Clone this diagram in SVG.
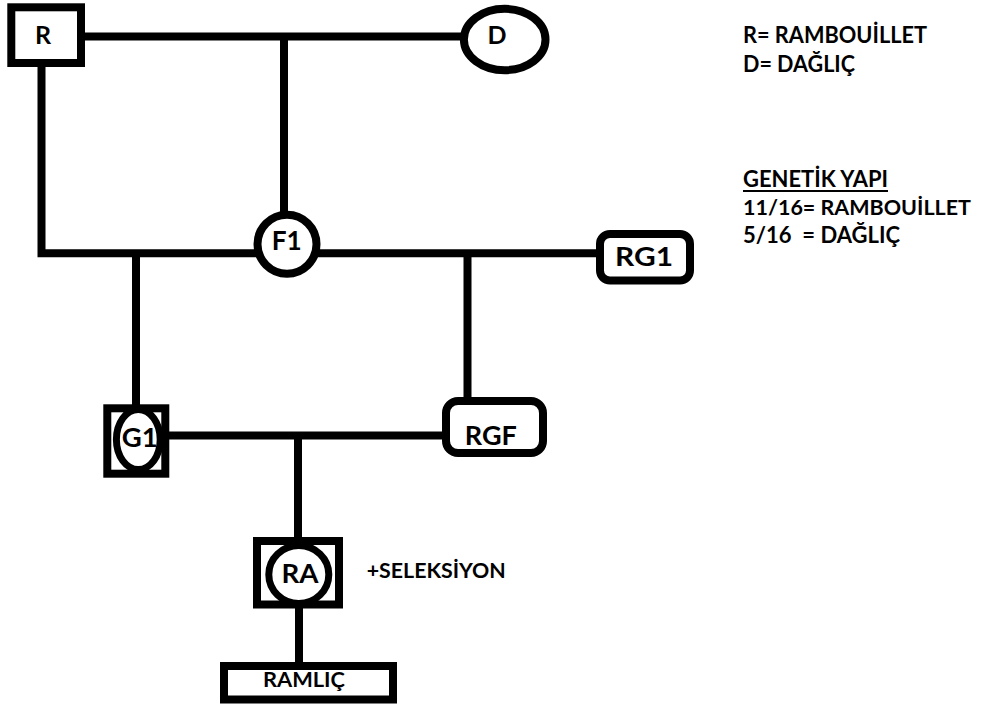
<svg xmlns="http://www.w3.org/2000/svg" width="984" height="707" viewBox="0 0 984 707">
<style>
.ln{stroke:#000;stroke-width:8;fill:none;stroke-linecap:butt}
.nd{fill:#fff;stroke:#000;stroke-width:8}
.in{fill:#fff;stroke:#000;stroke-width:7}
text{font-family:Lato,"Liberation Sans","DejaVu Sans",sans-serif;font-weight:bold;fill:#000}
.lb{font-size:26px;text-anchor:middle}
.lg{font-size:23px}
</style>
<rect width="984" height="707" fill="#fff"/>
<g id="connectors">
<line class="ln" x1="80" y1="36.5" x2="465" y2="36.5"/>
<line class="ln" x1="284" y1="36.5" x2="284" y2="214"/>
<polyline class="ln" points="41.5,62 41.5,253.3 600,253.3"/>
<line class="ln" x1="136" y1="253.3" x2="136" y2="406"/>
<line class="ln" x1="467.5" y1="253.3" x2="467.5" y2="400"/>
<line class="ln" x1="165" y1="435.5" x2="447" y2="435.5"/>
<line class="ln" x1="298" y1="435.5" x2="298" y2="540"/>
<line class="ln" x1="299" y1="604" x2="299" y2="667"/>
</g>
<g id="node-R">
<rect class="nd" x="11.3" y="7.3" width="69.7" height="55.7"/>
<text class="lb" x="43" y="44" style="font-size:25px">R</text>
</g>
<g id="node-D">
<ellipse class="nd" cx="504.7" cy="39.5" rx="40.8" ry="30.7"/>
<text class="lb" x="497" y="44" style="font-size:25px">D</text>
</g>
<g id="node-F1">
<circle class="nd" cx="287" cy="244.2" r="29.5"/>
<text class="lb" x="286.7" y="250" textLength="30" lengthAdjust="spacingAndGlyphs">F1</text>
</g>
<g id="node-RG1">
<rect class="nd" x="600" y="234" width="90" height="46.5" rx="10"/>
<text class="lb" x="644" y="265.7" textLength="58" lengthAdjust="spacingAndGlyphs">RG1</text>
</g>
<g id="node-G1">
<rect class="nd" x="107.3" y="408.3" width="58" height="65.4"/>
<ellipse class="in" cx="138.3" cy="439.5" rx="21.9" ry="30"/>
<text class="lb" x="139.7" y="446.7" textLength="36" lengthAdjust="spacingAndGlyphs">G1</text>
</g>
<g id="node-RGF">
<rect class="nd" x="446" y="401" width="97" height="52" rx="12"/>
<text class="lb" x="490.8" y="445" textLength="52" lengthAdjust="spacingAndGlyphs">RGF</text>
</g>
<g id="node-RA">
<rect class="nd" x="257" y="541" width="82" height="63.5"/>
<ellipse class="in" cx="298.8" cy="574.6" rx="30" ry="29"/>
<text class="lb" x="300" y="583.3" textLength="37" lengthAdjust="spacingAndGlyphs">RA</text>
</g>
<g id="node-RAMLIC">
<rect class="nd" x="224" y="666" width="169" height="33.5"/>
<text class="lb" x="304" y="687" style="font-size:20px" textLength="82" lengthAdjust="spacingAndGlyphs">RAMLIÇ</text>
</g>
<g id="note-seleksiyon">
<text x="366.7" y="578.3" style="font-size:21px" textLength="139" lengthAdjust="spacingAndGlyphs">+SELEKSİYON</text>
</g>
<g id="legend">
<text class="lg" x="743" y="43.3" textLength="184" lengthAdjust="spacingAndGlyphs">R= RAMBOUİLLET</text>
<text class="lg" x="743" y="71.7" textLength="112" lengthAdjust="spacingAndGlyphs">D= DAĞLIÇ</text>
<text class="lg" x="743" y="186.7" textLength="145" lengthAdjust="spacingAndGlyphs">GENETİK YAPI</text>
<line x1="743" y1="191" x2="888" y2="191" stroke="#000" stroke-width="2"/>
<text class="lg" x="743" y="215" style="font-size:21.5px" textLength="228" lengthAdjust="spacingAndGlyphs">11/16= RAMBOUİLLET</text>
<text class="lg" x="743" y="243.3" textLength="157" lengthAdjust="spacingAndGlyphs" xml:space="preserve">5/16  = DAĞLIÇ</text>
</g>
</svg>
